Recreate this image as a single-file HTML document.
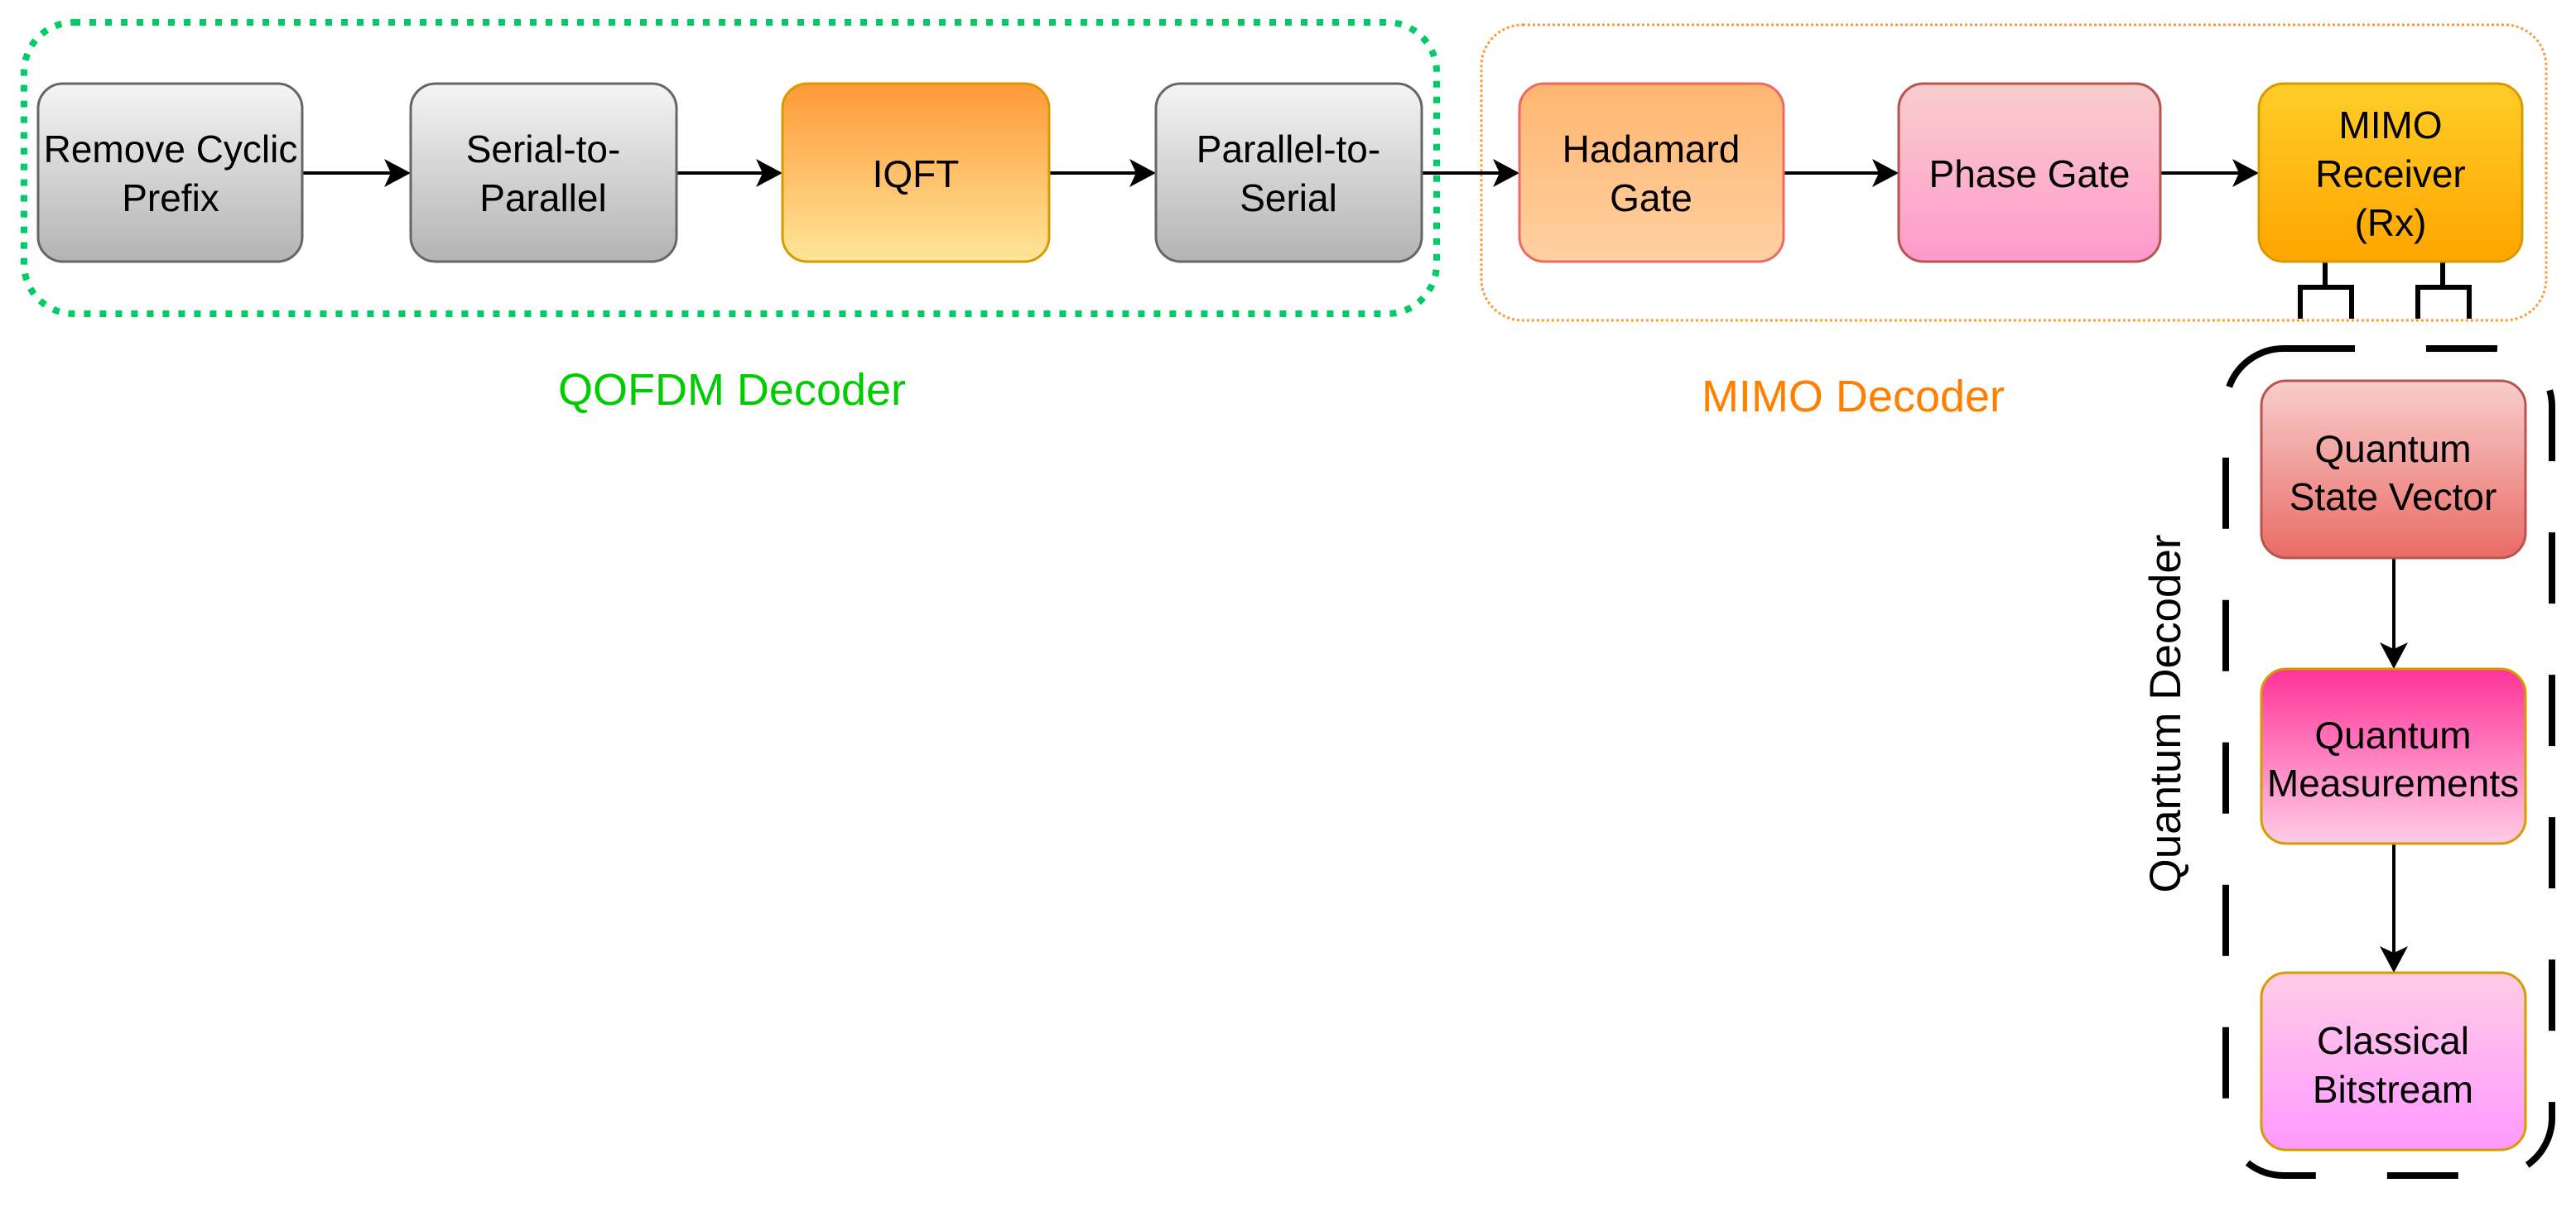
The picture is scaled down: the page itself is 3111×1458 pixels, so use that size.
<!DOCTYPE html>
<html><head><meta charset="utf-8"><style>
html,body{margin:0;padding:0;background:#fff;}
svg{display:block;}
text{font-family:"Liberation Sans",Arial,sans-serif;}
</style></head><body>
<svg width="3111" height="1458" viewBox="0 0 3111 1458" xmlns="http://www.w3.org/2000/svg">
<defs>
<linearGradient id="gray" x1="0" y1="0" x2="0" y2="1"><stop offset="0" stop-color="#f5f5f5"/><stop offset="1" stop-color="#b3b3b3"/></linearGradient>
<linearGradient id="iqft" x1="0" y1="0" x2="0" y2="1"><stop offset="0" stop-color="#ff9a38"/><stop offset="1" stop-color="#ffe599"/></linearGradient>
<linearGradient id="had" x1="0" y1="0" x2="0" y2="1"><stop offset="0" stop-color="#ffb570"/><stop offset="1" stop-color="#ffd0a0"/></linearGradient>
<linearGradient id="phase" x1="0" y1="0" x2="0" y2="1"><stop offset="0" stop-color="#f8cecc"/><stop offset="1" stop-color="#ff99cc"/></linearGradient>
<linearGradient id="mimo" x1="0" y1="0" x2="0" y2="1"><stop offset="0" stop-color="#ffcd28"/><stop offset="1" stop-color="#ffa500"/></linearGradient>
<linearGradient id="qsv" x1="0" y1="0" x2="0" y2="1"><stop offset="0" stop-color="#f8cecc"/><stop offset="1" stop-color="#ea6b66"/></linearGradient>
<linearGradient id="qm" x1="0" y1="0" x2="0" y2="1"><stop offset="0" stop-color="#ff3399"/><stop offset="1" stop-color="#ffcce6"/></linearGradient>
<linearGradient id="cb" x1="0" y1="0" x2="0" y2="1"><stop offset="0" stop-color="#ffcce6"/><stop offset="1" stop-color="#ff99ff"/></linearGradient>
</defs>

<rect x="29" y="27" width="1706" height="352" rx="60" fill="none" stroke="#00cc66" stroke-width="8" stroke-dasharray="8 11"/>
<rect x="1789" y="30" width="1286" height="357" rx="50" fill="none" stroke="#ff9933" stroke-width="3" stroke-dasharray="3 3"/>
<rect x="2688" y="421" width="394" height="999" rx="70" fill="none" stroke="#000" stroke-width="8" stroke-dasharray="86 86"/>

<g stroke="#000" stroke-width="4" fill="none">
<line x1="365" y1="209" x2="480" y2="209"/>
<line x1="817" y1="209" x2="930" y2="209"/>
<line x1="1267" y1="209" x2="1380" y2="209"/>
<line x1="1717" y1="209" x2="1820" y2="209"/>
<line x1="2154" y1="209" x2="2278" y2="209"/>
<line x1="2609" y1="209" x2="2713" y2="209"/>
<line x1="2891" y1="674" x2="2891" y2="792"/>
<line x1="2891" y1="1019" x2="2891" y2="1160"/>
<path d="M2808 316 V347 M2778 385 V347 H2840 V385 M2950 316 V347 M2920 385 V347 H2982 V385" stroke-width="6"/>
</g>
<g fill="#000">
<polygon points="496,209 464,192 472,209 464,226"/>
<polygon points="945,209 913,192 921,209 913,226"/>
<polygon points="1396,209 1364,192 1372,209 1364,226"/>
<polygon points="1835,209 1803,192 1811,209 1803,226"/>
<polygon points="2293,209 2261,192 2269,209 2261,226"/>
<polygon points="2728,209 2696,192 2704,209 2696,226"/>
<polygon points="2891,808 2874,776 2891,784 2908,776"/>
<polygon points="2891,1175 2874,1143 2891,1151 2908,1143"/>
</g>

<g stroke-width="3">
<rect x="46" y="101" width="319" height="215" rx="30" fill="url(#gray)" stroke="#666"/>
<rect x="496" y="101" width="321" height="215" rx="30" fill="url(#gray)" stroke="#666"/>
<rect x="945" y="101" width="322" height="215" rx="30" fill="url(#iqft)" stroke="#d79b00"/>
<rect x="1396" y="101" width="321" height="215" rx="30" fill="url(#gray)" stroke="#666"/>
<rect x="1835" y="101" width="319" height="215" rx="30" fill="url(#had)" stroke="#ea6b66"/>
<rect x="2293" y="101" width="316" height="215" rx="30" fill="url(#phase)" stroke="#b85450"/>
<rect x="2728" y="101" width="318" height="215" rx="30" fill="url(#mimo)" stroke="#d79b00"/>
<rect x="2731" y="460" width="319" height="214" rx="30" fill="url(#qsv)" stroke="#b85450"/>
<rect x="2731" y="808" width="319" height="211" rx="30" fill="url(#qm)" stroke="#d79b00"/>
<rect x="2731" y="1175" width="319" height="214" rx="30" fill="url(#cb)" stroke="#d79b00"/>
</g>

<g font-size="46" text-anchor="middle" fill="#000">
<text x="206" y="196">Remove Cyclic</text><text x="206" y="255">Prefix</text>
<text x="656" y="196">Serial-to-</text><text x="656" y="255">Parallel</text>
<text x="1106" y="226">IQFT</text>
<text x="1556" y="196">Parallel-to-</text><text x="1556" y="255">Serial</text>
<text x="1994" y="196">Hadamard</text><text x="1994" y="255">Gate</text>
<text x="2451" y="226">Phase Gate</text>
<text x="2887" y="167">MIMO</text><text x="2887" y="226">Receiver</text><text x="2887" y="285">(Rx)</text>
<text x="2890" y="558">Quantum</text><text x="2890" y="616">State Vector</text>
<text x="2890" y="904">Quantum</text><text x="2890" y="962">Measurements</text>
<text x="2890" y="1273">Classical</text><text x="2890" y="1332">Bitstream</text>
</g>

<text x="884" y="489" font-size="54" text-anchor="middle" fill="#00cc00">QOFDM Decoder</text>
<text x="2238" y="497" font-size="54" text-anchor="middle" fill="#ff8000">MIMO Decoder</text>
<text x="0" y="0" font-size="53" text-anchor="middle" fill="#000" transform="translate(2633,862) rotate(-90)">Quantum Decoder</text>
</svg>
</body></html>
